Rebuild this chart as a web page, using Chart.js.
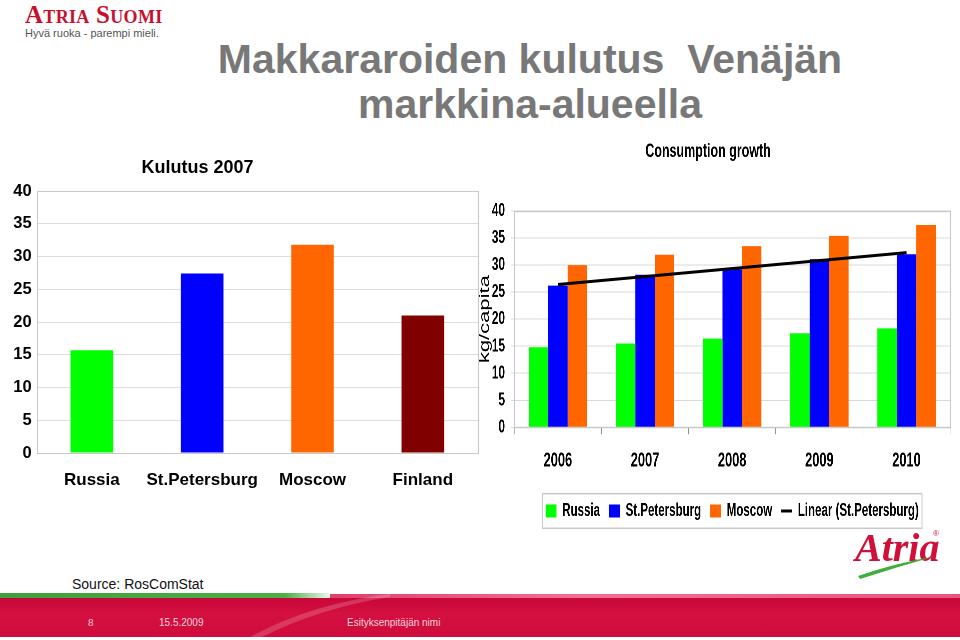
<!DOCTYPE html>
<html>
<head>
<meta charset="utf-8">
<script src="https://cdn.jsdelivr.net/npm/chart.js@4.4.1/dist/chart.umd.min.js"></script>
<style>
html,body{margin:0;padding:0;width:960px;height:640px;overflow:hidden;background:#fff;position:relative;font-family:'Liberation Sans',Arial,sans-serif;}
.abs{position:absolute;}
#brand{left:25px;top:1px;font:bold 25px 'Liberation Serif',serif;font-variant:small-caps;color:#c8102e;letter-spacing:0.3px;white-space:nowrap;}
#slogan{left:25px;top:27px;font:11px 'Liberation Sans',Arial,sans-serif;color:#555;white-space:nowrap;}
#mainTitle{left:130px;width:800px;top:37px;text-align:center;font:bold 41px 'Liberation Sans',Arial,sans-serif;line-height:45px;color:#787878;white-space:pre;}
#leftWrap{left:-100px;top:140px;width:580px;height:360px;}
#rightWrap{left:440px;top:130px;width:807px;height:402px;transform:scaleX(0.64);transform-origin:0 0;}
#source{left:72px;top:576px;font:14px 'Liberation Sans',Arial,sans-serif;color:#111;white-space:nowrap;}
#greenBar{left:0;top:593px;width:335px;height:5px;background:linear-gradient(90deg,#3f9f3a,#4caf45 85%,rgba(76,175,69,0));}
#redBand{left:0;top:598px;width:960px;height:39px;background:linear-gradient(180deg,#c8073a 0%,#d3103f 40%,#cf0c3b 100%);}
#redTop{left:330px;top:594px;width:630px;height:4px;background:linear-gradient(90deg,#e0406a,#f07090 40%,#e8557c);}
#swoosh{left:250px;top:594px;width:140px;height:43px;}
.foot{top:617px;font:10px 'Liberation Sans',Arial,sans-serif;color:#f8d2dc;white-space:nowrap;}
#pageNo{left:88px;font:11px 'Liberation Serif',serif;top:616px;}
#date{left:159px;}
#presenter{left:347px;}
#atriaLogo{left:855px;top:525px;font:italic bold 40px 'Liberation Serif',serif;color:#d0103a;line-height:46px;white-space:nowrap;}
#reg{left:933px;top:529px;font:8px 'Liberation Sans',Arial,sans-serif;color:#d0103a;}
#atriaSwoosh{left:852px;top:552px;width:90px;height:28px;}
</style>
</head>
<body>
<div id="brand" class="abs">Atria Suomi</div>
<div id="slogan" class="abs">Hyvä ruoka - parempi mieli.</div>
<div id="mainTitle" class="abs">Makkararoiden kulutus  Venäjän
markkina-alueella</div>

<div id="leftWrap" class="abs"><canvas id="leftChart"></canvas></div>
<div id="rightWrap" class="abs"><canvas id="rightChart"></canvas></div>

<div id="atriaLogo" class="abs">Atria</div>
<div id="reg" class="abs">®</div>
<svg id="atriaSwoosh" class="abs" viewBox="0 0 90 28"><path d="M6 24 Q40 12 84 4 Q45 15 8 27 Z" fill="#3fae3a"/></svg>

<div id="source" class="abs">Source: RosComStat</div>
<div id="greenBar" class="abs"></div>
<div id="redTop" class="abs"></div>
<div id="redBand" class="abs"></div>
<svg id="swoosh" class="abs" viewBox="0 0 140 43"><path d="M0 43 Q60 10 140 0 L140 3 Q70 14 12 43 Z" fill="rgba(255,255,255,0.18)"/></svg>
<div id="pageNo" class="abs foot">8</div>
<div id="date" class="abs foot">15.5.2009</div>
<div id="presenter" class="abs foot">Esityksenpitäjän nimi</div>

<script>
// ---- data ----
const leftCategories = ['Russia', 'St.Petersburg', 'Moscow', 'Finland'];
const consumption2007 = [15.7, 27.4, 31.8, 21.0];
const leftColors = ['#00ff00', '#0000ff', '#ff6600', '#800000'];

const years = ['2006', '2007', '2008', '2009', '2010'];
const russia = [14.8, 15.5, 16.4, 17.4, 18.3];
const stPetersburg = [26.2, 28.2, 29.2, 31.1, 32.0];
const moscow = [30.0, 31.9, 33.5, 35.4, 37.4];
const linearStPetersburg = [26.4, null, null, null, 32.3];
const seriesNames = ['Russia', 'St.Petersburg', 'Moscow', 'Linear (St.Petersburg)'];
const seriesColors = ['#00ff00', '#0000ff', '#ff6600', '#000000'];

const FAMILY = "'Liberation Sans', Arial, sans-serif";
Chart.defaults.font.family = FAMILY;
Chart.defaults.color = '#000';

const plotBorder = {
  id: 'plotBorder',
  beforeDatasetsDraw(chart, args, opts) {
    const {left, top, right, bottom} = chart.chartArea;
    const ctx = chart.ctx;
    ctx.save();
    ctx.strokeStyle = opts.color || '#ccc';
    ctx.lineWidth = opts.width || 1;
    ctx.strokeRect(Math.round(left) + 0.5, Math.round(top) + 0.5, Math.round(right - left), Math.round(bottom - top));
    ctx.restore();
  }
};

const legendBox = {
  id: 'legendBox',
  afterDraw(chart, args, opts) {
    const lg = chart.legend;
    if (!lg || !lg.legendHitBoxes || !lg.legendHitBoxes.length) return;
    const hb = lg.legendHitBoxes;
    const l = Math.min(...hb.map(h => h.left)) - opts.padX;
    const r = Math.max(...hb.map(h => h.left + h.width)) + opts.padX;
    const cy = hb[0].top + hb[0].height / 2;
    const ctx = chart.ctx;
    ctx.save();
    ctx.strokeStyle = opts.color;
    ctx.lineWidth = opts.width;
    ctx.strokeRect(l, cy - opts.halfH, r - l, 2 * opts.halfH);
    ctx.restore();
  }
};

// ---- left chart: Kulutus 2007 ----
new Chart(document.getElementById('leftChart'), {
  type: 'bar',
  data: {
    labels: leftCategories,
    datasets: [{
      label: 'Kulutus 2007',
      data: consumption2007,
      backgroundColor: leftColors,
      barPercentage: 0.386,
      categoryPercentage: 1.0
    }]
  },
  options: {
    responsive: true,
    maintainAspectRatio: false,
    animation: false,
    devicePixelRatio: 1,
    layout: {padding: {left: 17, right: 2, top: 0, bottom: 7}},
    scales: {
      x: {
        grid: {display: false, drawTicks: false},
        border: {display: false},
        ticks: {font: {size: 17, weight: 'bold'}, padding: 16.8, color: '#000',
          autoSkip: false, maxRotation: 0, minRotation: 0},
        afterFit(s) { s.height = 40; }
      },
      y: {
        min: 0, max: 40,
        ticks: {stepSize: 5, font: {size: 16.5, weight: 'bold'}, padding: 5, color: '#000'},
        grid: {color: '#dcdcdc', drawTicks: false},
        border: {display: false},
        afterFit(s) { s.width = 119.7; }
      }
    },
    plugins: {
      legend: {display: false},
      tooltip: {enabled: false},
      title: {display: true, text: 'Kulutus 2007', color: '#000',
        font: {size: 18, weight: 'bold'}, padding: {top: 17.5, bottom: 11.9}},
      plotBorder: {color: '#c8c8c8', width: 1}
    }
  },
  plugins: [plotBorder]
});

// ---- right chart: Consumption growth ----
new Chart(document.getElementById('rightChart'), {
  type: 'bar',
  data: {
    labels: years,
    datasets: [
      {type: 'bar', label: seriesNames[0], data: russia, backgroundColor: seriesColors[0], order: 1},
      {type: 'bar', label: seriesNames[1], data: stPetersburg, backgroundColor: seriesColors[1], order: 1},
      {type: 'bar', label: seriesNames[2], data: moscow, backgroundColor: seriesColors[2], order: 1},
      {type: 'line', label: seriesNames[3], data: linearStPetersburg, borderColor: seriesColors[3],
        backgroundColor: seriesColors[3], borderWidth: 3, pointRadius: 0, spanGaps: true, fill: false, order: 0}
    ]
  },
  options: {
    responsive: true,
    maintainAspectRatio: false,
    animation: false,
    devicePixelRatio: 2,
    layout: {padding: {left: 40.6, right: 10, top: 0, bottom: 2}},
    datasets: {bar: {categoryPercentage: 0.67, barPercentage: 1.0}},
    scales: {
      x: {
        grid: {offset: true, drawOnChartArea: false, drawTicks: true, tickLength: 7, color: '#8c8c8c'},
        border: {display: true, color: '#8c8c8c'},
        ticks: {font: {size: 20, weight: 'bold'}, padding: 14.7, color: '#000',
          autoSkip: false, maxRotation: 0, minRotation: 0},
        afterFit(s) { s.height = 60.7; }
      },
      y: {
        min: 0, max: 40,
        ticks: {stepSize: 5, font: {size: 18.5, weight: 'bold'}, padding: 9.5, color: '#000'},
        grid: {color: '#d9d9d9', drawTicks: true, tickLength: 5},
        border: {display: true, color: '#aaaaaa'},
        title: {display: true, text: 'kg/capita', color: '#000', font: {size: 22}, padding: {top: 16.5, bottom: 0}},
        afterFit(s) { s.width = 75.5; }
      }
    },
    plugins: {
      tooltip: {enabled: false},
      title: {display: true, text: 'Consumption growth', color: '#000',
        font: {size: 19.5, weight: 'bold'}, padding: {top: 10, bottom: 47.6}},
      legend: {
        position: 'bottom',
        fullSize: false,
        labels: {
          usePointStyle: true,
          pointStyleWidth: 17,
          boxHeight: 13,
          padding: 14,
          color: '#000',
          font: {size: 18, weight: 'bold'},
          sort: (a, b) => a.datasetIndex - b.datasetIndex,
          generateLabels(chart) {
            const items = Chart.defaults.plugins.legend.labels.generateLabels(chart);
            items.forEach(it => {
              if (it.datasetIndex === 3) {
                it.pointStyle = 'line';
                it.strokeStyle = '#000';
                it.lineWidth = 3;
              } else {
                it.pointStyle = 'rect';
                it.strokeStyle = it.fillStyle;
                it.lineWidth = 0;
              }
            });
            return items;
          }
        }
      },
      plotBorder: {color: '#c8c8c8', width: 1.5},
      legendBox: {color: '#c8c8c8', width: 1.5, padX: 5, halfH: 17.3}
    }
  },
  plugins: [plotBorder, legendBox]
});
</script>
</body>
</html>
